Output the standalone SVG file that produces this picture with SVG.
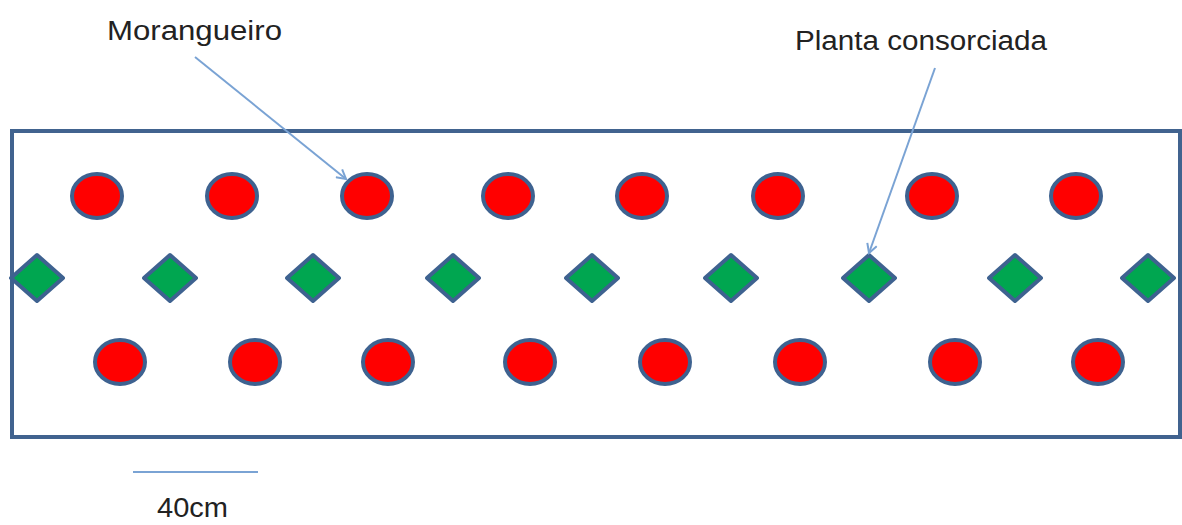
<svg xmlns="http://www.w3.org/2000/svg" width="1182" height="525" viewBox="0 0 1182 525">
<style>
.lbl{font-family:"Liberation Sans",Arial,sans-serif;font-size:27px;fill:#222}
.m{fill:#ff0000;stroke:#3e6290;stroke-width:4}
.p{fill:#00a650;stroke:#3e6290;stroke-width:4;stroke-linejoin:round}
.ar{stroke:#7aa3d4;stroke-width:2;fill:none}
</style>
<defs>
<marker id="ah" markerWidth="12" markerHeight="12" refX="10" refY="6" orient="auto" markerUnits="userSpaceOnUse">
<path d="M1,1 L10,6 L1,11" fill="none" stroke="#7aa3d4" stroke-width="2"/>
</marker>
<polygon id="dm" points="0,-23 26,0 0,23 -26,0"/>
</defs>
<rect x="12" y="131" width="1168" height="306" fill="#ffffff" stroke="#41638f" stroke-width="4"/>
<g id="row-top">
<ellipse class="m" cx="97" cy="196" rx="25" ry="22"/>
<ellipse class="m" cx="232" cy="196" rx="25" ry="22"/>
<ellipse class="m" cx="367" cy="196" rx="25" ry="22"/>
<ellipse class="m" cx="508" cy="196" rx="25" ry="22"/>
<ellipse class="m" cx="642" cy="196" rx="25" ry="22"/>
<ellipse class="m" cx="778" cy="196" rx="25" ry="22"/>
<ellipse class="m" cx="932" cy="196" rx="25" ry="22"/>
<ellipse class="m" cx="1076" cy="196" rx="25" ry="22"/>
</g>
<g id="row-mid">
<use href="#dm" class="p" x="37" y="278"/>
<use href="#dm" class="p" x="170" y="278"/>
<use href="#dm" class="p" x="313" y="278"/>
<use href="#dm" class="p" x="453" y="278"/>
<use href="#dm" class="p" x="592" y="278"/>
<use href="#dm" class="p" x="731" y="278"/>
<use href="#dm" class="p" x="869" y="278"/>
<use href="#dm" class="p" x="1015" y="278"/>
<use href="#dm" class="p" x="1148" y="278"/>
</g>
<g id="row-bottom">
<ellipse class="m" cx="120" cy="362" rx="25" ry="22"/>
<ellipse class="m" cx="255" cy="362" rx="25" ry="22"/>
<ellipse class="m" cx="388" cy="362" rx="25" ry="22"/>
<ellipse class="m" cx="530" cy="362" rx="25" ry="22"/>
<ellipse class="m" cx="665" cy="362" rx="25" ry="22"/>
<ellipse class="m" cx="800" cy="362" rx="25" ry="22"/>
<ellipse class="m" cx="955" cy="362" rx="25" ry="22"/>
<ellipse class="m" cx="1098" cy="362" rx="25" ry="22"/>
</g>
<g id="connectors">
<line class="ar" x1="195" y1="57" x2="346" y2="179" marker-end="url(#ah)"/>
<line class="ar" x1="935" y1="68" x2="869" y2="253" marker-end="url(#ah)"/>
</g>
<g id="label-morangueiro"><text class="lbl" x="107" y="40" textLength="175" lengthAdjust="spacingAndGlyphs">Morangueiro</text></g>
<g id="label-planta"><text class="lbl" x="795" y="50" textLength="252" lengthAdjust="spacingAndGlyphs">Planta consorciada</text></g>
<g id="scale">
<line x1="133" y1="472" x2="258" y2="472" stroke="#7aa3d4" stroke-width="2"/>
<text class="lbl" x="157" y="517" textLength="71" lengthAdjust="spacingAndGlyphs">40cm</text>
</g>
</svg>
